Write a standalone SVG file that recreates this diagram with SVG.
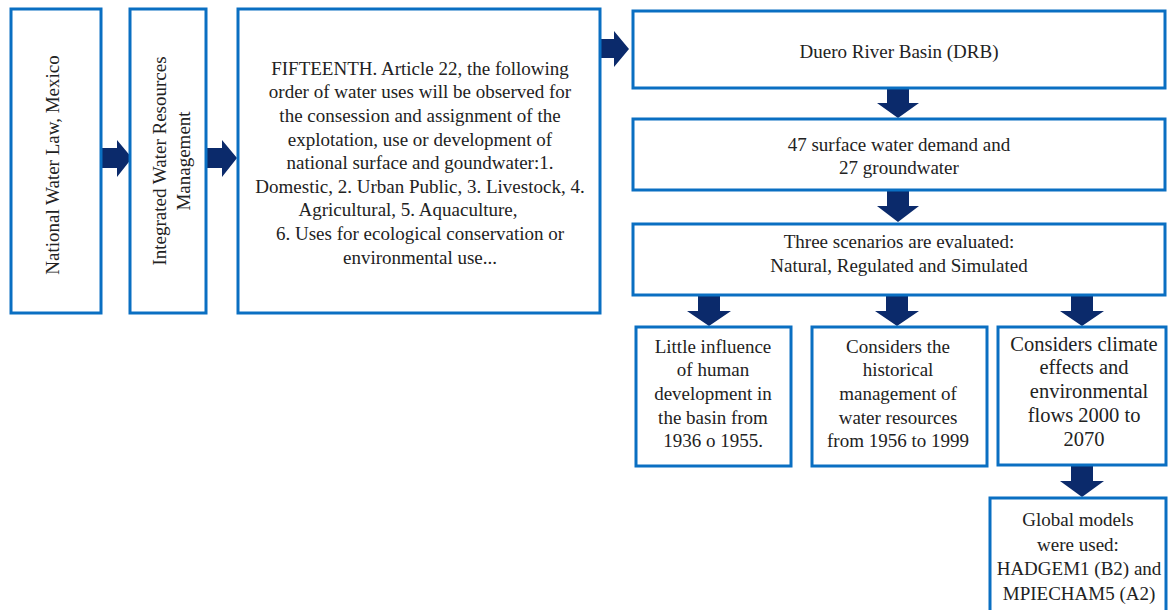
<svg xmlns="http://www.w3.org/2000/svg" width="1170" height="610" viewBox="0 0 1170 610">
<style>
.box{fill:#fff;stroke:#0a6fc2;stroke-width:3}
.arr{fill:#0b2a6b}
text{font-family:"Liberation Serif","Times New Roman",serif;font-size:19px;fill:#222;text-anchor:middle}
.big{font-size:20.5px}
</style>
<rect width="1170" height="610" fill="#fff"/>
<g id="connectors">
<polygon class="arr" points="101,148 117,148 117,140 132,158 117,177 117,168 101,168"/>
<polygon class="arr" points="207,148 222,148 222,140 237,158 222,177 222,168 207,168"/>
<polygon class="arr" points="600,39 614,39 614,31 629,49 614,67 614,58 600,58"/>
<polygon class="arr" points="887,88 909,88 909,103 919,103 898,118 877,103 887,103"/>
<polygon class="arr" points="887,191 909,191 909,206 919,206 898,222 877,206 887,206"/>
<polygon class="arr" points="698,296 720,296 720,311 731,311 709,326 687,311 698,311"/>
<polygon class="arr" points="886,296 908,296 908,311 919,311 897,326 875,311 886,311"/>
<polygon class="arr" points="1071,296 1093,296 1093,311 1104,311 1082,326 1060,311 1071,311"/>
<polygon class="arr" points="1071,466 1093,466 1093,481 1104,481 1082,497 1060,481 1071,481"/>
</g>
<g id="n1">
<rect class="box" x="11" y="9" width="90" height="304"/>
<text transform="translate(59,165) rotate(-90)">National Water Law, Mexico</text>
</g>
<g id="n2">
<rect class="box" x="130" y="9" width="76" height="304"/>
<text transform="translate(166,161) rotate(-90)">Integrated Water Resources</text>
<text transform="translate(190,161) rotate(-90)">Management</text>
</g>
<g id="n3">
<rect class="box" x="238" y="9" width="362" height="304"/>
<text x="420" y="75">FIFTEENTH. Article 22, the following</text>
<text x="420" y="98">order of water uses will be observed for</text>
<text x="420" y="122">the consession and assignment of the</text>
<text x="420" y="146">explotation, use or development of</text>
<text x="420" y="169">national surface and goundwater:1.</text>
<text x="420" y="193">Domestic, 2. Urban Public, 3. Livestock, 4.</text>
<text x="408" y="216">Agricultural, 5. Aquaculture,</text>
<text x="420" y="240">6. Uses for ecological conservation or</text>
<text x="420" y="264">environmental use...</text>
</g>
<g id="n4">
<rect class="box" x="633" y="11" width="532" height="77"/>
<text x="899" y="58">Duero River Basin (DRB)</text>
</g>
<g id="n5">
<rect class="box" x="633" y="119" width="532" height="71"/>
<text x="899" y="151">47 surface water demand and</text>
<text x="899" y="174">27 groundwater</text>
</g>
<g id="n6">
<rect class="box" x="633" y="224" width="532" height="71"/>
<text x="899" y="248">Three scenarios are evaluated:</text>
<text x="899" y="272">Natural, Regulated and Simulated</text>
</g>
<g id="n7">
<rect class="box" x="636" y="327" width="155" height="139"/>
<text x="713" y="353">Little influence</text>
<text x="713" y="376">of human</text>
<text x="713" y="400">development in</text>
<text x="713" y="424">the basin from</text>
<text x="713" y="447">1936 o 1955.</text>
</g>
<g id="n8">
<rect class="box" x="812" y="327" width="175" height="139"/>
<text x="898" y="353">Considers the</text>
<text x="898" y="376">historical</text>
<text x="898" y="400">management of</text>
<text x="898" y="424">water resources</text>
<text x="898" y="447">from 1956 to 1999</text>
</g>
<g id="n9">
<rect class="box" x="998" y="327" width="168" height="138"/>
<text class="big" x="1084" y="351">Considers climate</text>
<text class="big" x="1084" y="374">effects and</text>
<text class="big" x="1089" y="398">environmental</text>
<text class="big" x="1084" y="422">flows 2000 to</text>
<text class="big" x="1084" y="446">2070</text>
</g>
<g id="n10">
<rect class="box" x="990" y="498" width="176" height="130"/>
<text x="1078" y="526">Global models</text>
<text x="1078" y="551">were used:</text>
<text x="1079" y="575">HADGEM1 (B2) and</text>
<text x="1079" y="600">MPIECHAM5 (A2)</text>
</g>
</svg>
